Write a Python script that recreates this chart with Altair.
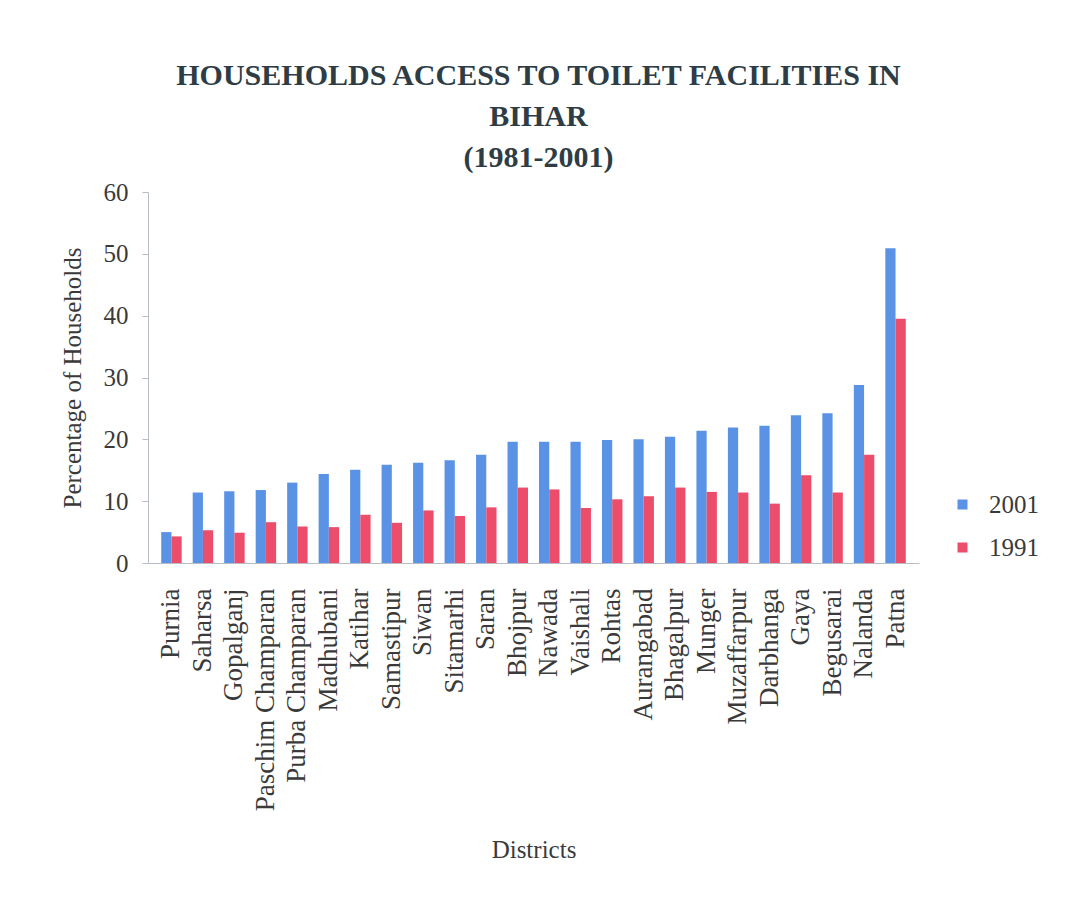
import altair as alt
import pandas as pd

districts = ["Purnia", "Saharsa", "Gopalganj", "Paschim Champaran", "Purba Champaran",
             "Madhubani", "Katihar", "Samastipur", "Siwan", "Sitamarhi", "Saran",
             "Bhojpur", "Nawada", "Vaishali", "Rohtas", "Aurangabad", "Bhagalpur",
             "Munger", "Muzaffarpur", "Darbhanga", "Gaya", "Begusarai", "Nalanda", "Patna"]
v2001 = [5.0, 11.4, 11.6, 11.8, 13.0, 14.4, 15.1, 15.9, 16.2, 16.6, 17.5,
         19.6, 19.6, 19.6, 19.9, 20.0, 20.4, 21.4, 21.9, 22.2, 23.9, 24.2, 28.8, 50.9]
v1991 = [4.3, 5.3, 4.9, 6.6, 5.9, 5.8, 7.8, 6.5, 8.5, 7.6, 9.0,
         12.2, 11.9, 8.9, 10.3, 10.8, 12.2, 11.5, 11.4, 9.6, 14.2, 11.4, 17.5, 39.5]
years = ["2001", "1991"]
colors = ["#5a93e6", "#ec4d6a"]

rows = []
for d, a, b in zip(districts, v2001, v1991):
    rows.append({"District": d, "Year": "2001", "Value": a})
    rows.append({"District": d, "Year": "1991", "Value": b})
df = pd.DataFrame(rows)

FONT = "Liberation Serif"
TXT = "#3a3a3a"

chart = alt.Chart(df).mark_bar().encode(
    x=alt.X("District:N", sort=districts,
            scale=alt.Scale(paddingInner=0.35, paddingOuter=0.42),
            axis=alt.Axis(title="Districts", labelAngle=-90, labelFontSize=27,
                          labelFont=FONT, labelColor=TXT, labelLimit=0, titleFont=FONT,
                          titleFontSize=25, titleFontWeight="normal", titleColor=TXT,
                          titlePadding=74, ticks=False, domainColor="#b8bcc4",
                          labelPadding=25)),
    xOffset=alt.XOffset("Year:N", sort=years),
    y=alt.Y("Value:Q", scale=alt.Scale(domain=[0, 60]),
            axis=alt.Axis(title="Percentage of Households", values=[0, 10, 20, 30, 40, 50, 60],
                          grid=False, labelFontSize=25, labelFont=FONT, labelColor=TXT,
                          titleFont=FONT, titleFontSize=25, titleFontWeight="normal",
                          titleColor=TXT, domainColor="#b8bcc4", tickColor="#b8bcc4",
                          tickSize=6, labelPadding=14, titlePadding=18)),
    color=alt.Color("Year:N", sort=years,
                    scale=alt.Scale(domain=years, range=colors),
                    legend=alt.Legend(title=None, orient="none", legendX=802, legendY=300,
                                      symbolType="square", symbolSize=100,
                                      labelFont=FONT, labelFontSize=25, labelColor=TXT,
                                      rowPadding=17, symbolStrokeWidth=0, labelOffset=14)),
).properties(
    width=771,
    height=371,
    background="white",
    title=alt.Title(["HOUSEHOLDS ACCESS TO TOILET FACILITIES IN", "BIHAR", "(1981-2001)"],
                    font=FONT, fontSize=30, fontWeight="bold", color="#2e3d45",
                    lineHeight=41, offset=7, anchor="middle", dx=5),
    padding={"left": 60, "top": 61, "right": 20, "bottom": 20},
).configure_view(stroke=None)

chart.save("out.html", embed_options={"renderer": "svg", "actions": False})
